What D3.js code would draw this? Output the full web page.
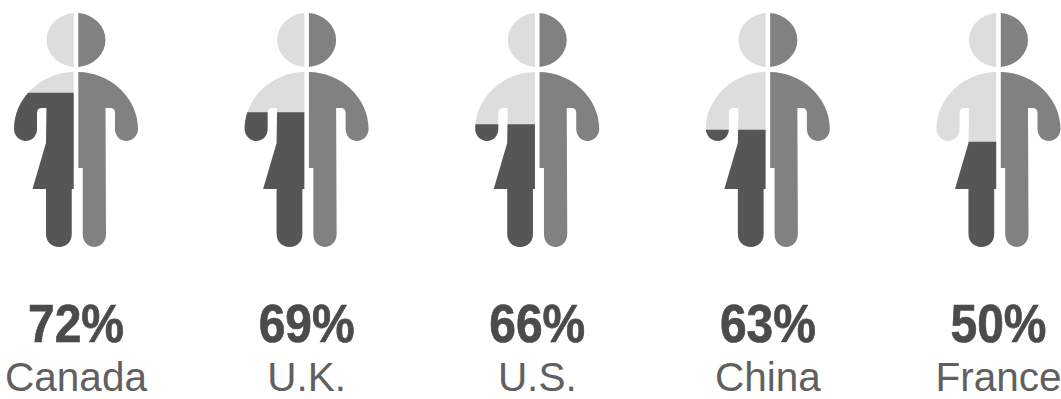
<!DOCTYPE html>
<html>
<head>
<meta charset="utf-8">
<script src="https://cdn.jsdelivr.net/npm/d3@7/dist/d3.min.js"></script>
<style>
  html, body { margin: 0; padding: 0; background: #fff; overflow: hidden; }
  svg { display: block; }
  text { font-family: "Liberation Sans", Arial, sans-serif; text-anchor: middle; }
</style>
</head>
<body>
<svg id="chart" width="1061" height="399"></svg>
<script>
const countries = ["Canada", "U.K.", "U.S.", "China", "France"];
const shares = [72, 69, 66, 63, 50];

const colors = { light: "#dddddd", mid: "#818181", dark: "#565656" };
const width = 1061, height = 399;

const svg = d3.select("#chart");

// One column per country, each holding a figure and its two labels.
const x = d3.scalePoint().domain(countries).range([76, 998.5]);

// Height of the fill line on the female half for a given share.
// The outline is wider at the arms, so the mapping is not a straight line.
const fillLevel = d3.scaleLinear()
  .domain([50, 63, 66, 69, 72])
  .range([141.7, 129.7, 124.3, 112.3, 92.7]);

const gap = 2.3;          // half of the white seam down the middle
const shoulderY = 72;
const armOuter = 62, armInner = 39, armEndY = 129, armR = 11.5, armTipY = 141;
const pitY = 108, waist = 29.5;

// Upper body shared by both halves, drawn on the side given by s (-1 left, +1 right).
function upperBody(p, s) {
  p.moveTo(s * gap, shoulderY);
  p.bezierCurveTo(s * 33, shoulderY, s * armOuter, 97, s * armOuter, armEndY);
  p.bezierCurveTo(s * armOuter, armTipY - 5, s * (armOuter - 6), armTipY, s * (armOuter - armR), armTipY);
  p.bezierCurveTo(s * (armInner + 5), armTipY, s * armInner, armTipY - 5, s * armInner, armEndY);
  p.lineTo(s * armInner, pitY + 5);
  p.quadraticCurveTo(s * armInner, pitY, s * (armInner - 5), pitY);
  p.lineTo(s * waist, pitY);
}

// Female half: arm, skirt and one leg.
function leftHalf() {
  const p = d3.path();
  upperBody(p, -1);
  p.lineTo(-30, 143);
  p.lineTo(-43.5, 189);
  p.lineTo(-30, 189);
  p.lineTo(-30, 234);
  p.bezierCurveTo(-30, 242, -24, 247, -17, 247);
  p.bezierCurveTo(-10, 247, -4.3, 242, -4.3, 234);
  p.lineTo(-4.3, 189);
  p.lineTo(-gap, 189);
  p.closePath();
  return p.toString();
}

// Male half: arm and one straight leg.
function rightHalf() {
  const p = d3.path();
  upperBody(p, 1);
  p.lineTo(30, 234);
  p.bezierCurveTo(30, 242, 24, 247, 18.5, 247);
  p.bezierCurveTo(12, 247, 6.7, 242, 6.7, 234);
  p.lineTo(6.7, 168);
  p.lineTo(gap, 168);
  p.closePath();
  return p.toString();
}

// Half of the slightly oval head.
function headHalf(s) {
  const rx = 29.5, ry = 27, cy = 40;
  const inner = Math.sqrt(1 - (gap / rx) * (gap / rx)) * ry;
  return `M${s * gap},${cy - inner}` +
    `A${rx},${ry} 0 0 ${s > 0 ? 1 : 0} ${s * gap},${cy + inner}Z`;
}

const defs = svg.append("defs");
defs.selectAll("clipPath")
  .data(shares)
  .join("clipPath")
  .attr("id", (d, i) => `fill-${i}`)
  .append("rect")
  .attr("x", -80)
  .attr("width", 160)
  .attr("y", d => fillLevel(d))
  .attr("height", d => height - fillLevel(d));

const rows = countries.map((name, i) => ({ name, share: shares[i], i }));

const figure = svg.selectAll("g.figure")
  .data(rows)
  .join("g")
  .attr("class", "figure")
  .attr("transform", d => `translate(${x(d.name)},0)`);

figure.append("path").attr("d", headHalf(-1)).attr("fill", colors.light);
figure.append("path").attr("d", headHalf(1)).attr("fill", colors.mid);
figure.append("path").attr("d", leftHalf()).attr("fill", colors.light);
figure.append("path").attr("d", rightHalf()).attr("fill", colors.mid);
figure.append("path")
  .attr("d", leftHalf())
  .attr("fill", colors.dark)
  .attr("clip-path", d => `url(#fill-${d.i})`);

figure.append("text")
  .attr("y", 342)
  .attr("font-size", 54)
  .attr("font-weight", 700)
  .attr("fill", "#4b4b4b")
  .attr("stroke", "#4b4b4b")
  .attr("stroke-width", 0.7)
  .attr("textLength", 96)
  .attr("lengthAdjust", "spacingAndGlyphs")
  .text(d => `${d.share}%`);

figure.append("text")
  .attr("y", 391)
  .attr("font-size", 40.5)
  .attr("fill", "#606060")
  .text(d => d.name);
</script>
</body>
</html>
